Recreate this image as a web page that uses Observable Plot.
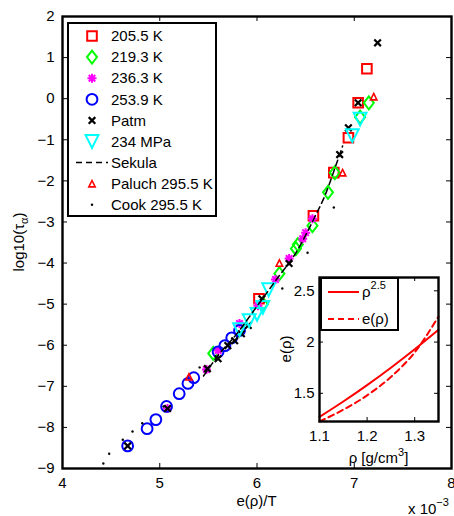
<!DOCTYPE html>
<html><head><meta charset="utf-8">
<script src="https://cdn.jsdelivr.net/npm/d3@7"></script>
<script src="https://cdn.jsdelivr.net/npm/@observablehq/plot@0.6"></script>
<style>
html,body{margin:0;padding:0;background:#fff;}
#wrap{position:relative;width:454px;height:516px;overflow:hidden;font-family:"Liberation Sans",Arial,sans-serif;}
#wrap svg{position:absolute;}
</style></head><body><div id="wrap"></div>
<script>
// ---------- data ----------
const xTicks = [4, 5, 6, 7, 8];
const yTicks = [2, 1, 0, -1, -2, -3, -4, -5, -6, -7, -8, -9];

const T205_x = [6.02, 6.58, 6.79, 6.94, 7.04, 7.13];
const T205_y = [-4.87, -2.85, -1.80, -0.95, -0.10, 0.73];

const T219_x = [5.55, 6.06, 6.23, 6.40, 6.42, 6.57, 6.73, 6.80, 7.06, 7.15];
const T219_y = [-6.20, -5.00, -4.26, -3.65, -3.55, -3.09, -2.28, -1.80, -0.45, -0.10];

const T236_x = [5.08, 5.48, 5.60, 5.82, 6.01, 6.19, 6.33, 6.47, 6.50, 6.57];
const T236_y = [-7.54, -6.59, -6.13, -5.47, -5.04, -4.40, -3.89, -3.41, -3.26, -2.92];

const T253_x = [4.67, 4.87, 4.96, 5.07, 5.20, 5.29, 5.35, 5.60, 5.67, 5.74, 5.82];
const T253_y = [-8.45, -8.03, -7.81, -7.49, -7.18, -6.93, -6.79, -6.16, -6.01, -5.82, -5.64];

const Patm_x = [4.67, 5.08, 5.49, 5.60, 5.70, 5.77, 5.84, 5.91, 6.05, 6.33, 6.85, 6.94, 7.04, 7.24];
const Patm_y = [-8.45, -7.54, -6.57, -6.33, -6.01, -5.89, -5.72, -5.52, -4.87, -4.01, -1.36, -0.71, -0.10, 1.36];

const P234_x = [5.82, 5.92, 6.00, 6.06, 6.12, 6.98, 7.06];
const P234_y = [-5.62, -5.40, -5.25, -5.08, -4.65, -0.90, -0.50];

const Sekula_x = [5.45, 5.60, 5.80, 6.00, 6.20, 6.40, 6.60, 6.70, 6.80, 6.88];
const Sekula_y = [-6.75, -6.25, -5.70, -5.05, -4.40, -3.75, -2.85, -2.35, -1.70, -1.15];

const Paluch_x = [5.30, 6.23, 6.88, 7.20];
const Paluch_y = [-6.77, -4.00, -1.80, 0.05];

const Cook_x = [4.42, 4.48, 4.62, 4.72, 4.82, 5.04, 5.41, 6.26, 6.52, 6.79];
const Cook_y = [-8.88, -8.64, -8.30, -8.10, -7.90, -7.49, -6.54, -4.62, -3.75, -2.65];

const legendLabels = ["205.5 K", "219.3 K", "236.3 K", "253.9 K", "Patm", "234 MPa", "Sekula", "Paluch 295.5 K", "Cook 295.5 K"];

// inset
const rho = [1.10, 1.15, 1.20, 1.25, 1.30, 1.35];
const rhoPow = [1.27, 1.42, 1.58, 1.75, 1.93, 2.12];
const eRho = [1.225, 1.34, 1.48, 1.66, 1.90, 2.25];
const insetXTicks = [1.1, 1.2, 1.3];
const insetYTicks = [1.5, 2, 2.5];

// ---------- symbols ----------
const R = s => Math.sqrt(s / Math.PI);
const symSquare = {draw(c, s) {const r = R(s); c.moveTo(-r, -r); c.lineTo(r, -r); c.lineTo(r, r); c.lineTo(-r, r); c.closePath();}};
const symDiamond = {draw(c, s) {const r = R(s); c.moveTo(0, -1.3 * r); c.lineTo(r, 0); c.lineTo(0, 1.3 * r); c.lineTo(-r, 0); c.closePath();}};
const symStar = {draw(c, s) {const r = R(s), d = r * 0.72;
  c.moveTo(-r, 0); c.lineTo(r, 0); c.moveTo(0, -r); c.lineTo(0, r);
  c.moveTo(-d, -d); c.lineTo(d, d); c.moveTo(-d, d); c.lineTo(d, -d);}};
const symCircle = {draw(c, s) {const r = R(s); c.moveTo(r, 0); c.arc(0, 0, r, 0, 2 * Math.PI);}};
const symTimes = {draw(c, s) {const r = R(s); c.moveTo(-r, -r); c.lineTo(r, r); c.moveTo(-r, r); c.lineTo(r, -r);}};
const symTriDown = {draw(c, s) {const r = R(s); c.moveTo(-r, -r); c.lineTo(r, -r); c.lineTo(0, r); c.closePath();}};
const symTriUp = {draw(c, s) {const r = R(s); c.moveTo(0, -r); c.lineTo(r, r); c.lineTo(-r, r); c.closePath();}};

const zipXY = (xs, ys) => xs.map((x, i) => ({x, y: ys[i]}));

const series = [
  {data: zipXY(T205_x, T205_y), sym: symSquare, r: 4.8, stroke: "#ff0000", sw: 2, fill: "none"},
  {data: zipXY(T219_x, T219_y), sym: symDiamond, r: 5, stroke: "#00ff00", sw: 2, fill: "none"},
  {data: zipXY(T236_x, T236_y), sym: symStar, r: 4.5, stroke: "#ff00ff", sw: 2, fill: "none"},
  {data: zipXY(T253_x, T253_y), sym: symCircle, r: 5.4, stroke: "#0000ff", sw: 2, fill: "none"},
  {data: zipXY(Patm_x, Patm_y), sym: symTimes, r: 3.3, stroke: "#000000", sw: 2.2, fill: "none"},
  {data: zipXY(P234_x, P234_y), sym: symTriDown, r: 6.4, stroke: "#00ffff", sw: 2, fill: "none"},
  null,
  {data: zipXY(Paluch_x, Paluch_y), sym: symTriUp, r: 3.2, stroke: "#ff0000", sw: 1.6, fill: "none"},
  {data: zipXY(Cook_x, Cook_y), sym: symCircle, r: 1.2, stroke: "none", sw: 0, fill: "#000000"}
];
const sekula = zipXY(Sekula_x, Sekula_y);

// ---------- main plot ----------
const W = 454, H = 516;
const mL = 62, mR = 3, mT = 16, mB = 48;
const fW = W - mL - mR, fH = H - mT - mB;
const tk = 5;
const FS = 15;
const fmt = d => (d < 0 ? "\u2212" + (-d) : String(d));
const font = "'Liberation Sans', Arial, sans-serif";

const dotMarks = [];
series.forEach((s, i) => {
  if (i === 6) {
    dotMarks.push(Plot.line(sekula, {x: "x", y: "y", stroke: "black", strokeWidth: 1.5, strokeDasharray: "6,4", curve: "monotone-x"}));
  } else {
    dotMarks.push(Plot.dot(s.data, {x: "x", y: "y", symbol: s.sym, r: s.r, stroke: s.stroke, strokeWidth: s.sw, fill: s.fill}));
  }
});

const main = Plot.plot({
  width: W, height: H, marginLeft: mL, marginRight: mR, marginTop: mT, marginBottom: mB,
  style: {background: "white", fontFamily: font, fontSize: FS + "px", color: "black", overflow: "visible"},
  x: {domain: [4, 8]},
  y: {domain: [-9, 2]},
  marks: [
    Plot.ruleX(xTicks, {x: d => d, insetTop: fH - tk, stroke: "black", strokeWidth: 1}),
    Plot.ruleX(xTicks, {x: d => d, insetBottom: fH - tk, stroke: "black", strokeWidth: 1}),
    Plot.ruleY(yTicks, {y: d => d, insetRight: fW - tk, stroke: "black", strokeWidth: 1}),
    Plot.ruleY(yTicks, {y: d => d, insetLeft: fW - tk, stroke: "black", strokeWidth: 1}),
    Plot.axisX(xTicks, {tickSize: 0, tickPadding: 9, label: null, fontSize: FS}),
    Plot.axisY(yTicks, {tickSize: 0, tickPadding: 8, label: null, fontSize: FS, tickFormat: fmt}),
    ...dotMarks,
    Plot.frame({stroke: "black", strokeWidth: 2.4})
  ]
});
main.style.left = "0px"; main.style.top = "0px";
document.getElementById("wrap").appendChild(main);

const svg = d3.select(main);
// axis titles
svg.append("text").attr("x", mL + fW / 2).attr("y", 506).attr("text-anchor", "middle")
  .attr("font-family", font).attr("font-size", FS).attr("fill", "black").text("e(\u03c1)/T");
const yl = svg.append("text").attr("transform", "translate(24,242) rotate(-90)").attr("text-anchor", "middle")
  .attr("font-family", font).attr("font-size", FS).attr("fill", "black");
yl.append("tspan").text("log10(\u03c4");
yl.append("tspan").attr("font-size", 11).attr("dy", 4).text("\u03b1");
yl.append("tspan").attr("dy", -4).text(")");
const ex = svg.append("text").attr("x", 408).attr("y", 514).attr("text-anchor", "start")
  .attr("font-family", font).attr("font-size", FS).attr("fill", "black");
ex.append("tspan").text("x 10");
ex.append("tspan").attr("font-size", 11).attr("dy", -8).text("\u22123");

// legend
const lg = svg.append("g");
lg.append("rect").attr("x", 68).attr("y", 23).attr("width", 148).attr("height", 193)
  .attr("fill", "white").attr("stroke", "black").attr("stroke-width", 2);
legendLabels.forEach((lab, i) => {
  const yy = 36 + i * 21.1;
  const s = series[i];
  if (i === 6) {
    lg.append("line").attr("x1", 76).attr("x2", 108).attr("y1", yy).attr("y2", yy)
      .attr("stroke", "black").attr("stroke-width", 1.5).attr("stroke-dasharray", "6,4");
  } else {
    lg.append("path").attr("transform", `translate(92,${yy})`)
      .attr("d", d3.symbol().type(s.sym).size(Math.PI * s.r * s.r)())
      .attr("fill", s.fill).attr("stroke", s.stroke).attr("stroke-width", s.sw);
  }
  lg.append("text").attr("x", 111).attr("y", yy).attr("dy", "0.35em").attr("text-anchor", "start")
    .attr("font-family", font).attr("font-size", FS).attr("fill", "black").text(lab);
});

// ---------- inset ----------
const iL = 45, iR = 4, iT = 3, iB = 49, iW = 168, iH = 196;
const ifW = iW - iL - iR, ifH = iH - iT - iB;
const inset = Plot.plot({
  width: iW, height: iH, marginLeft: iL, marginRight: iR, marginTop: iT, marginBottom: iB,
  style: {background: "none", fontFamily: font, fontSize: FS + "px", color: "black", overflow: "visible"},
  x: {domain: [1.1, 1.35]},
  y: {domain: [1.225, 2.63]},
  marks: [
    Plot.frame({fill: "white", stroke: "none"}),
    Plot.ruleX(insetXTicks, {x: d => d, insetTop: ifH - 4, stroke: "black"}),
    Plot.ruleX(insetXTicks, {x: d => d, insetBottom: ifH - 4, stroke: "black"}),
    Plot.ruleY(insetYTicks, {y: d => d, insetRight: ifW - 4, stroke: "black"}),
    Plot.ruleY(insetYTicks, {y: d => d, insetLeft: ifW - 4, stroke: "black"}),
    Plot.axisX(insetXTicks, {tickSize: 0, tickPadding: 9, label: null, fontSize: FS, tickFormat: d => String(d)}),
    Plot.axisY(insetYTicks, {tickSize: 0, tickPadding: 5, label: null, fontSize: FS, tickFormat: d => String(d)}),
    Plot.line(zipXY(rho, rhoPow), {x: "x", y: "y", stroke: "#ff0000", strokeWidth: 2, curve: "monotone-x"}),
    Plot.line(zipXY(rho, eRho), {x: "x", y: "y", stroke: "#ff0000", strokeWidth: 2, strokeDasharray: "6,4", curve: "monotone-x"}),
    Plot.frame({stroke: "black", strokeWidth: 2.4})
  ]
});
inset.style.left = (319 - iL) + "px"; inset.style.top = (277 - iT) + "px";
document.getElementById("wrap").appendChild(inset);
const isvg = d3.select(inset);
isvg.append("text").attr("x", iL + ifW / 2).attr("y", 189).attr("text-anchor", "middle")
  .attr("font-family", font).attr("font-size", FS).attr("fill", "black")
  .call(t => { t.append("tspan").text("\u03c1 [g/cm"); t.append("tspan").attr("font-size", 11).attr("dy", -7).text("3"); t.append("tspan").attr("dy", 7).text("]"); });
isvg.append("text").attr("transform", `translate(17,${iT + ifH / 2}) rotate(-90)`).attr("text-anchor", "middle")
  .attr("font-family", font).attr("font-size", FS).attr("fill", "black").text("e(\u03c1)");
// inset legend
const il = isvg.append("g");
il.append("rect").attr("x", iL + 2).attr("y", 4).attr("width", 77).attr("height", 52)
  .attr("fill", "white").attr("stroke", "black").attr("stroke-width", 2);
il.append("line").attr("x1", iL + 9).attr("x2", iL + 40).attr("y1", 18).attr("y2", 18).attr("stroke", "#ff0000").attr("stroke-width", 2);
il.append("line").attr("x1", iL + 9).attr("x2", iL + 40).attr("y1", 45).attr("y2", 45).attr("stroke", "#ff0000").attr("stroke-width", 2).attr("stroke-dasharray", "6,4");
il.append("text").attr("x", iL + 43).attr("y", 23).attr("text-anchor", "start").attr("font-family", font).attr("font-size", FS).attr("fill", "black")
  .call(t => { t.append("tspan").text("\u03c1"); t.append("tspan").attr("font-size", 11).attr("dy", -8).text("2.5"); });
il.append("text").attr("x", iL + 43).attr("y", 50).attr("text-anchor", "start").attr("font-family", font).attr("font-size", FS).attr("fill", "black").text("e(\u03c1)");
</script>
</body></html>
